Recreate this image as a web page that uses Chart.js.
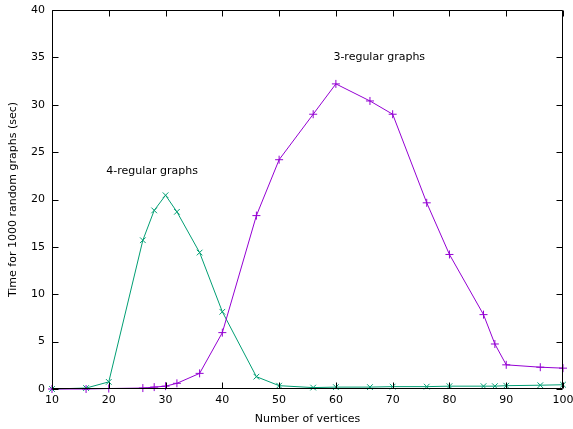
<!DOCTYPE html>
<html><head><meta charset="utf-8">
<script src="https://cdn.jsdelivr.net/npm/chart.js@4/dist/chart.umd.min.js"></script>
<style>html,body{margin:0;padding:0;background:#fff}#wrap{width:573px;height:429px}</style>
</head><body><div id="wrap"><canvas id="c" width="573" height="429"></canvas></div>
<script>
const vertices = [10,16,20,26,28,30,32,36,40,46,50,56,60,66,70,76,80,86,88,90,96,100];
const regular3 = [0,0,0.05,0.1,0.2,0.3,0.6,1.65,5.95,18.3,24.2,29.0,32.2,30.4,29.0,19.65,14.2,7.85,4.75,2.55,2.3,2.2];
const regular4 = [0,0.1,0.75,15.7,18.85,20.45,18.7,14.4,8.15,1.3,0.35,0.15,0.2,0.2,0.25,0.25,0.3,0.3,0.3,0.35,0.4,0.45];
const xTicks = [10,20,30,40,50,60,70,80,90,100];
const yTicks = [0,5,10,15,20,25,30,35,40];
const labels3 = {text:'3-regular graphs', x:60, y:35};
const labels4 = {text:'4-regular graphs', x:20, y:23};

const FONT = 'DejaVu Sans';
const toPts = ys => vertices.map((v,i)=>({x:v,y:ys[i]}));

const frame = {
  id:'frame',
  afterDraw(chart){
    const {ctx, chartArea:a, scales:{x,y}} = chart;
    ctx.save();
    ctx.strokeStyle='#000'; ctx.lineWidth=1;
    ctx.beginPath();
    const L=Math.round(a.left)+0.5, R=Math.round(a.right)-0.5, T=Math.round(a.top)+0.5, B=Math.round(a.bottom)-0.5;
    ctx.rect(L,T,R-L,B-T);
    const tl=6;
    xTicks.forEach(v=>{const px=Math.round(x.getPixelForValue(v))+0.5; ctx.moveTo(px,B); ctx.lineTo(px,B-tl); ctx.moveTo(px,T); ctx.lineTo(px,T+tl);});
    yTicks.forEach(v=>{const py=Math.round(y.getPixelForValue(v))+0.5; ctx.moveTo(L,py); ctx.lineTo(L+tl,py); ctx.moveTo(R,py); ctx.lineTo(R-tl,py);});
    ctx.stroke();
    ctx.fillStyle='#000'; ctx.font='11px "'+FONT+'"'; ctx.textAlign='left'; ctx.textBaseline='middle';
    [labels3,labels4].forEach(l=>ctx.fillText(l.text, x.getPixelForValue(l.x)-2.5, y.getPixelForValue(l.y)));
    ctx.restore();
  }
};

new Chart(document.getElementById('c'), {
  type:'line',
  data:{datasets:[
    {label:'3-regular graphs', data:toPts(regular3), borderColor:'#9400D3', backgroundColor:'#9400D3', borderWidth:1, pointStyle:'cross', pointRadius:4, pointBorderWidth:1, tension:0, fill:false, clip:false},
    {label:'4-regular graphs', data:toPts(regular4), borderColor:'#009E73', backgroundColor:'#009E73', borderWidth:1, pointStyle:'crossRot', pointRadius:4, pointBorderWidth:1, tension:0, fill:false, clip:false}
  ]},
  options:{
    responsive:false, animation:false, devicePixelRatio:1,
    layout:{padding:{top:10,right:10,left:0,bottom:0}},
    plugins:{legend:{display:false}, tooltip:{enabled:false}},
    scales:{
      x:{type:'linear', min:10, max:100, border:{display:false},
         grid:{display:false, drawTicks:false},
         afterBuildTicks(s){s.ticks = xTicks.map(v=>({value:v}));},
         afterFit(s){s.height=40; s.paddingLeft=0; s.paddingRight=0;},
         ticks:{padding:5, color:'#000', font:{family:FONT,size:11}, maxRotation:0, autoSkip:false},
         title:{display:true, text:'Number of vertices', color:'#000', font:{family:FONT,size:11}, padding:{top:0,bottom:3}}},
      y:{type:'linear', min:0, max:40, border:{display:false},
         grid:{display:false, drawTicks:false},
         afterBuildTicks(s){s.ticks = yTicks.map(v=>({value:v}));},
         afterFit(s){s.width=52; s.paddingTop=0; s.paddingBottom=0;},
         ticks:{padding:7, color:'#000', font:{family:FONT,size:11}, autoSkip:false},
         title:{display:true, text:'Time for 1000 random graphs (sec)', color:'#000', font:{family:FONT,size:11}, padding:{top:7,bottom:0}}}
    }
  },
  plugins:[frame]
});
</script></body></html>
